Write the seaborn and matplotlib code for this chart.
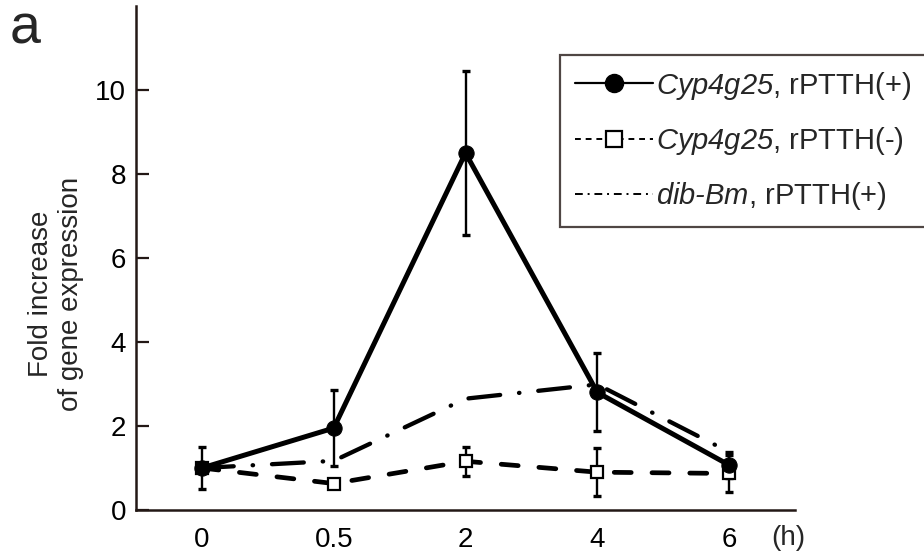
import matplotlib
matplotlib.use("Agg")
import matplotlib.pyplot as plt
import seaborn as sns
import pandas as pd
import numpy as np
from matplotlib.lines import Line2D

time_labels = ["0", "0.5", "2", "4", "6"]
cyp_plus = [1.0, 1.95, 8.5, 2.8, 1.07]
cyp_plus_err = [0.5, 0.9, 1.95, 0.93, 0.3]
cyp_minus = [1.0, 0.63, 1.16, 0.9, 0.87]
cyp_minus_err = [0.1, 0.08, 0.34, 0.57, 0.43]
dib_plus = [1.0, 1.17, 2.65, 2.99, 1.38]

series_names = ["Cyp4g25, rPTTH(+)", "Cyp4g25, rPTTH(-)", "dib-Bm, rPTTH(+)"]
legend_labels = [r"$Cyp4g25$, rPTTH(+)", r"$Cyp4g25$, rPTTH(-)", r"$dib\text{-}Bm$, rPTTH(+)"]

sns.set_theme(style="ticks")
plt.rcParams["font.family"] = ["Liberation Sans", "DejaVu Sans"]
plt.rcParams["mathtext.fontset"] = "custom"
plt.rcParams["mathtext.it"] = "Liberation Sans:italic"
plt.rcParams["mathtext.rm"] = "Liberation Sans:italic"
plt.rcParams["mathtext.sf"] = "Liberation Sans:italic"

FS = 20
pos = np.arange(len(time_labels))
df = pd.DataFrame({
    "pos": np.concatenate([pos, pos, pos]),
    "value": cyp_plus + cyp_minus + dib_plus,
    "series": np.repeat(series_names, len(time_labels)),
})

fig = plt.figure(figsize=(9.24, 5.58), dpi=100)
ax = fig.add_axes([136/924, 1-510/558, (795-136)/924, (510-6)/558])

c = "#000000"
ax.errorbar(pos, cyp_minus, yerr=cyp_minus_err, fmt="none", ecolor=c, elinewidth=1.7, capsize=2.6, capthick=2.4, zorder=2)
ax.errorbar(pos, cyp_plus, yerr=cyp_plus_err, fmt="none", ecolor=c, elinewidth=1.7, capsize=2.6, capthick=2.4, zorder=2)

sns.lineplot(data=df[df.series == series_names[2]], x="pos", y="value", ax=ax, color=c,
             linewidth=3.1, zorder=3, legend=False)
sns.lineplot(data=df[df.series == series_names[1]], x="pos", y="value", ax=ax, color=c,
             linewidth=3.4, marker="s", markersize=9, markerfacecolor="white",
             markeredgecolor=c, markeredgewidth=1.6, zorder=4, legend=False)
sns.lineplot(data=df[df.series == series_names[0]], x="pos", y="value", ax=ax, color=c,
             linewidth=3.6, marker="o", markersize=11, markeredgecolor=c, zorder=5, legend=False)

data_lines = [l for l in ax.get_lines() if len(l.get_xdata()) == len(time_labels)]
dib_line, minus_line, plus_line = data_lines[-3], data_lines[-2], data_lines[-1]
dib_line.set_dashes((7.4, 4.4, 0.1, 4.4))
dib_line.set_dash_capstyle("round")
minus_line.set_dashes((3.6, 4.4))
minus_line.set_dash_capstyle("round")

ax.set_xlim(-0.5, 4.5)
ax.set_ylim(0, 12)
ax.set_xticks(pos)
ax.set_xticklabels(time_labels)
ax.set_yticks([0, 2, 4, 6, 8, 10])
ax.tick_params(axis="x", length=0, labelsize=FS, pad=12, colors="#231815", labelcolor="black")
ax.tick_params(axis="y", direction="in", length=9, width=1.6, labelsize=FS, pad=7,
               colors="#231815", labelcolor="black")
for s in ["top", "right"]:
    ax.spines[s].set_visible(False)
for s in ["left", "bottom"]:
    ax.spines[s].set_linewidth(1.8)
    ax.spines[s].set_color("#231815")
ax.set_xlabel("")
ax.set_ylabel("")

fig.text(56/924, 1-294/558, "Fold increase\nof gene expression", fontsize=FS, rotation=90,
         ha="center", va="center", multialignment="center", linespacing=1.25)
fig.text(788/924, 1-538/558, "(h)", fontsize=FS, ha="center", va="center")
fig.text(25/924, 1-30/558, "a", fontsize=40, ha="center", va="center")

h1 = Line2D([], [], color=c, linewidth=1.6, marker="o", markersize=13)
h2 = Line2D([], [], color=c, linewidth=1.4, linestyle=(0, (3, 2.5)), marker="s", markersize=11,
            markerfacecolor="white", markeredgecolor=c, markeredgewidth=1.6)
h3 = Line2D([], [], color=c, linewidth=1.4, linestyle=(0, (4, 2.5, 1, 2.5)))
leg = fig.legend([h1, h2, h3], legend_labels, loc="upper left",
                 bbox_to_anchor=(560/924, 1-55/558), fontsize=21, frameon=True, fancybox=False,
                 handlelength=2.7, handletextpad=0.1, labelspacing=0.8, borderpad=0.5,
                 borderaxespad=0)
leg.get_frame().set_edgecolor("#231815")
leg.get_frame().set_linewidth(1.6)

fig.savefig("out.png", dpi=100)
